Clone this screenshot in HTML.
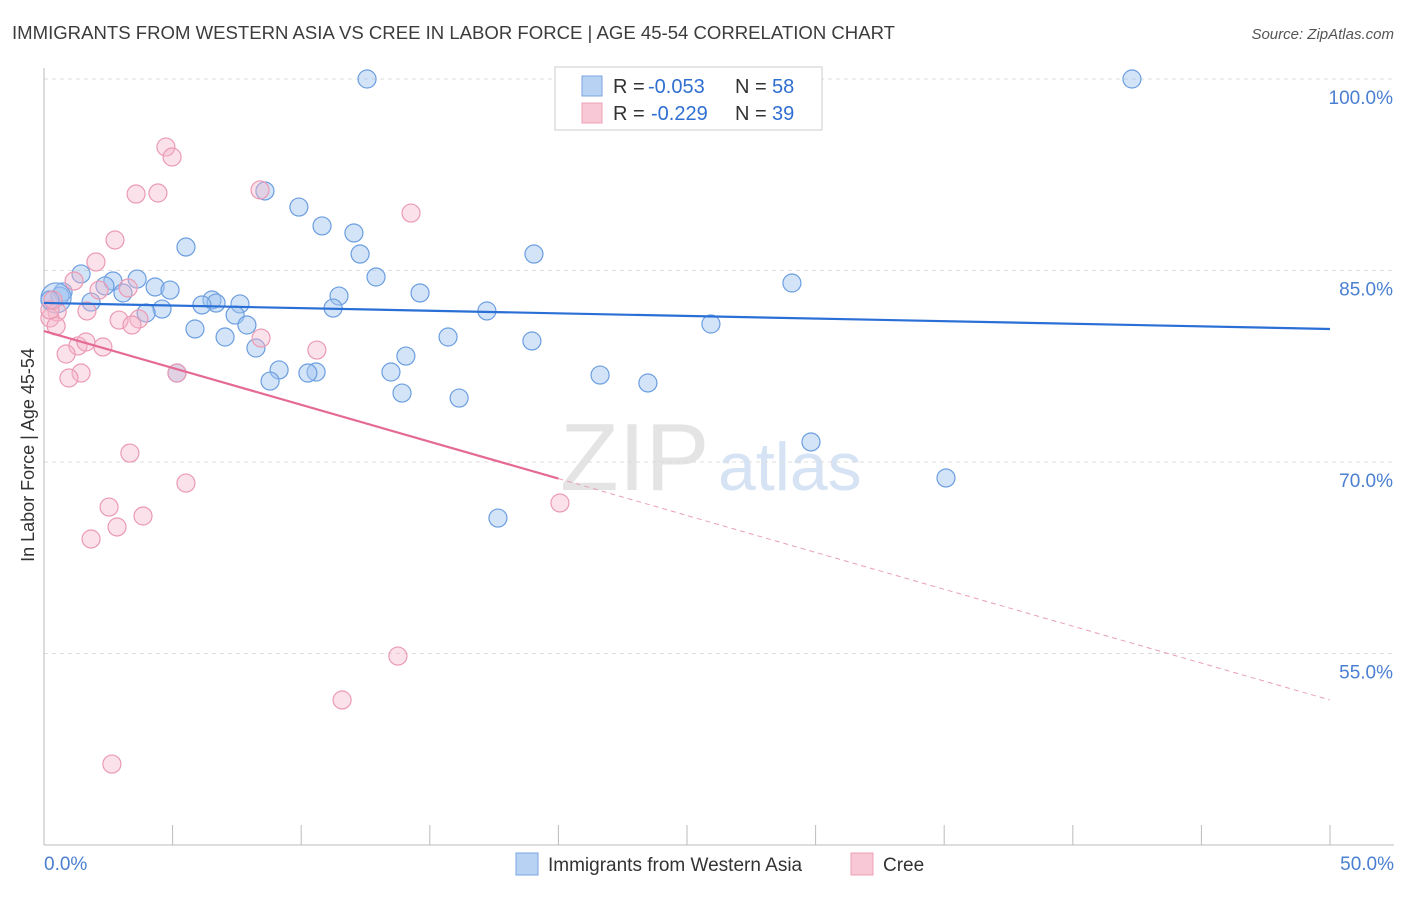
<!DOCTYPE html>
<html><head><meta charset="utf-8"><style>
body{margin:0;background:#fff;font-family:"Liberation Sans",sans-serif}
svg text{font-family:"Liberation Sans",sans-serif}
</style></head><body>
<svg width="1406" height="892" id="chart">
<text x="12" y="39" font-size="18" fill="#3c3c3c" textLength="883" lengthAdjust="spacingAndGlyphs">IMMIGRANTS FROM WESTERN ASIA VS CREE IN LABOR FORCE | AGE 45-54 CORRELATION CHART</text>
<text x="1394" y="39" font-size="15" fill="#555" text-anchor="end" font-style="italic">Source: ZipAtlas.com</text>
<text x="560" y="490" font-size="96" fill="#e4e4e4" font-family="Liberation Serif">ZIP</text>
<text x="718" y="490" font-size="68" fill="#d6e3f4">atlas</text>
<text transform="translate(34,455) rotate(-90)" font-size="18" fill="#333" text-anchor="middle">In Labor Force | Age 45-54</text>
<g id="grid"></g><g id="marks"></g>
<g>
<rect x="555" y="67" width="267" height="63" fill="#fff" stroke="#ccc"/>
<rect x="582" y="76" width="20" height="20" fill="#b8d2f4" stroke="#7aa5e0"/>
<rect x="582" y="103" width="20" height="20" fill="#f9c8d6" stroke="#eda0b6"/>
<text x="613" y="93" font-size="20" fill="#333">R =</text>
<text x="648" y="93" font-size="20" fill="#2f6fd1">-0.053</text>
<text x="735" y="93" font-size="20" fill="#333">N =</text>
<text x="772" y="93" font-size="20" fill="#2f6fd1">58</text>
<text x="613" y="120" font-size="20" fill="#333">R =</text>
<text x="651" y="120" font-size="20" fill="#2f6fd1">-0.229</text>
<text x="735" y="120" font-size="20" fill="#333">N =</text>
<text x="772" y="120" font-size="20" fill="#2f6fd1">39</text>
</g>
<g>
<rect x="516" y="853" width="22" height="22" fill="#b8d2f4" stroke="#7aa5e0"/>
<text x="548" y="871" font-size="19" fill="#333">Immigrants from Western Asia</text>
<rect x="851" y="853" width="22" height="22" fill="#f9c8d6" stroke="#eda0b6"/>
<text x="883" y="871" font-size="19" fill="#333">Cree</text>
</g>
</svg>
<script>
const blueX=[12.56,42.30,20.53,8.59,9.91,10.81,12.05,12.29,19.05,5.52,12.91,29.08,1.44,2.68,3.62,2.37,4.32,4.90,14.62,11.47,0.74,0.62,3.07,1.83,6.53,6.69,7.62,6.14,4.59,11.24,17.22,3.97,7.43,7.89,25.93,5.87,7.04,15.71,18.97,8.24,14.07,9.14,8.79,10.58,10.26,13.49,21.62,23.48,5.17,13.92,16.14,29.82,35.07,17.65,0.47,0.23];
const blueY=[100,100,100,91.23,89.97,88.49,87.94,86.29,86.29,86.84,84.49,84.02,84.73,84.18,84.33,83.79,83.71,83.47,83.24,83.00,83.32,83.00,83.24,82.53,82.69,82.45,82.38,82.30,81.98,82.06,81.83,81.67,81.51,80.73,80.81,80.42,79.79,79.79,79.48,78.93,78.30,77.21,76.34,77.05,76.97,77.05,76.81,76.19,76.97,75.40,75.01,71.57,68.75,65.61,82.85,82.69];
const pinkX=[4.74,4.98,3.58,4.43,8.40,14.27,2.76,2.02,1.17,3.27,2.14,1.67,2.92,3.69,3.42,0.51,0.23,0.47,8.44,10.61,2.29,1.32,1.63,0.86,1.44,0.97,5.17,3.34,5.52,2.53,3.85,2.84,1.83,20.06,13.76,11.59,2.64,0.23,0.35];
const pinkY=[94.67,93.89,90.99,91.07,91.31,89.50,87.39,85.67,84.18,83.63,83.47,81.83,81.12,81.20,80.73,81.75,81.28,80.65,79.71,78.77,79.01,79.09,79.40,78.46,76.97,76.58,76.97,70.70,68.35,66.47,65.77,64.91,63.97,66.79,54.80,51.36,46.34,81.91,82.69];
const blueTrend=[82.46,80.42];
const pinkTrend=[80.26,51.36];
const yTicks=[100,85,70,55];
const xTickLabels=["0.0%","50.0%"];
const NS="http://www.w3.org/2000/svg";
const sx=v=>44+v*25.72, sy=v=>79+(100-v)*12.767;
const grid=document.getElementById('grid'), marks=document.getElementById('marks');
function mk(tag,attrs,parent){const e=document.createElementNS(NS,tag);for(const k in attrs)e.setAttribute(k,attrs[k]);parent.appendChild(e);return e;}
yTicks.forEach(t=>{
 const l=mk('line',{x1:44,x2:1394,y1:sy(t),y2:sy(t),stroke:'#ddd','stroke-dasharray':'4,4'},grid);
 
 
 const tx=mk('text',{x:1393,y:sy(t)+25,'font-size':19,fill:'#4a7fd1','text-anchor':'end'},grid);
 tx.textContent=t.toFixed(1)+'%';
 
 
});
mk('line',{x1:44,x2:44,y1:68,y2:845,stroke:'#bbb'},grid);
mk('line',{x1:44,x2:1394,y1:845,y2:845,stroke:'#bbb'},grid);
for(let i=0;i<=10;i++){const l=mk('line',{x1:sx(i*5),x2:sx(i*5),y1:825,y2:845,stroke:'#bbb'},grid);
 
 }
[[0,'start',44],[50,'end',1394]].forEach((a,i)=>{const t=mk('text',{x:a[2],y:870,'font-size':19,fill:'#4a7fd1','text-anchor':a[1]},grid);t.textContent=xTickLabels[i];
 
 });
blueX.forEach((x,i)=>{const c=mk('circle',{cx:sx(x),cy:sy(blueY[i]),r:(i==blueX.length-2)?15:9,fill:'rgba(160,195,240,0.45)',stroke:'#6b9ee0','stroke-width':1.2},marks);
 
 });
pinkX.forEach((x,i)=>{const c=mk('circle',{cx:sx(x),cy:sy(pinkY[i]),r:9,fill:'rgba(245,180,200,0.4)',stroke:'#eb9ab4','stroke-width':1.2},marks);
 
 });
const bl=mk('line',{x1:sx(0),y1:sy(blueTrend[0]),x2:sx(50),y2:sy(blueTrend[1]),stroke:'#2a6fd6','stroke-width':2.2},marks);


const pAt=x=>pinkTrend[0]+(pinkTrend[1]-pinkTrend[0])*x/50;
const pl=mk('line',{x1:sx(0),y1:sy(pAt(0)),x2:sx(20),y2:sy(pAt(20)),stroke:'#e56a93','stroke-width':2.2},marks);


const pd=mk('line',{x1:sx(20),y1:sy(pAt(20)),x2:sx(50),y2:sy(pAt(50)),stroke:'#e9a0b8','stroke-width':1,'stroke-dasharray':'5,4'},marks);


</script>
</body></html>
